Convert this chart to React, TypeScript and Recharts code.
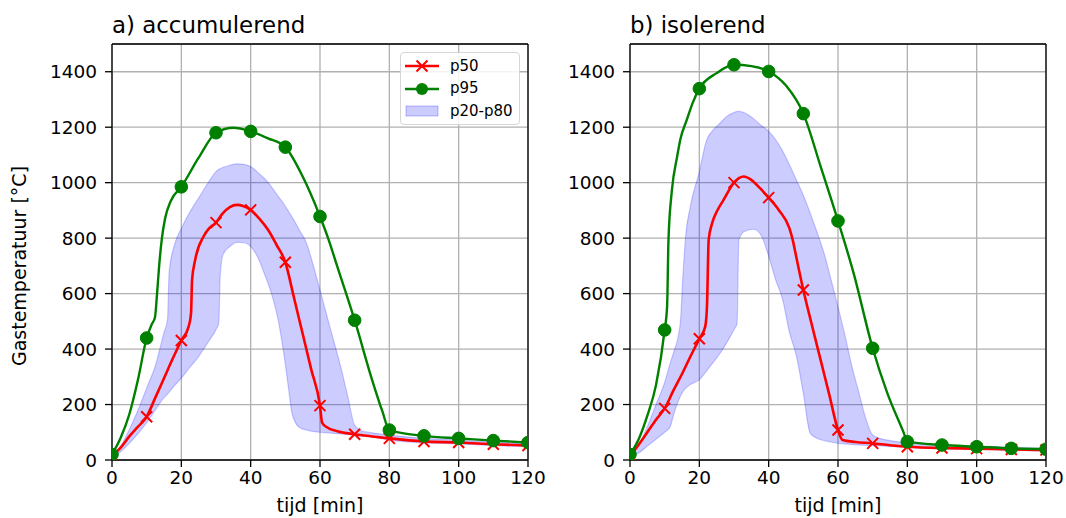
import React from 'react';
import { ComposedChart, Line, Area, XAxis, YAxis, CartesianGrid, ReferenceLine, Legend } from 'recharts';

const FONT = '"DejaVu Sans", sans-serif';

const xTicks = [0, 20, 40, 60, 80, 100, 120];
const yTicks = [0, 200, 400, 600, 800, 1000, 1200, 1400];
const panelTitles = ['a) accumulerend', 'b) isolerend'];
const xLabel = 'tijd [min]';
const yLabel = 'Gastemperatuur [°C]';
const seriesNames = ['p50', 'p95', 'p20-p80'];

// a) accumulerend
const p50aT = [0, 2.5, 5, 7.5, 10, 12.5, 15, 17.5, 20, 22.1, 22.8, 23.1, 24, 26.4, 28, 30, 32, 34, 36, 38, 40, 42.5, 45, 47.5, 50, 52.5, 55, 57.5, 60, 60.6, 62, 65, 70, 75, 80, 90, 100, 110, 120];
const p50aV = [15, 45, 85, 120, 156, 225, 295, 365, 431, 481, 529, 650, 722, 806, 835, 856, 890, 912, 920, 915, 902, 870, 830, 775, 713, 585, 455, 325, 196, 135, 118, 104, 93, 85, 78, 67, 63, 57, 52];

const p95aT = [0, 2.5, 5, 7.5, 10, 11.5, 12.4, 13, 13.6, 14.4, 15.3, 17, 20, 25, 30, 35, 40, 45, 50, 55, 60, 62.5, 65, 70, 75, 78, 80, 90, 100, 110, 120];
const p95aV = [20, 80, 165, 290, 440, 490, 515, 600, 700, 800, 870, 935, 985, 1090, 1180, 1198, 1185, 1160, 1128, 1022, 878, 794, 697, 504, 290, 175, 108, 87, 78, 70, 63];

const bandAT = [0, 2.5, 5, 7.5, 10, 12.5, 15, 16, 16.5, 18, 20, 22.5, 25, 28, 30, 30.8, 31.2, 32, 34, 36, 38, 40, 42, 44, 46, 48, 50, 51, 52, 54, 56, 58, 60, 62, 64, 66, 68, 70, 72, 75, 80, 90, 100, 110, 120];
const bandALo = [10, 30, 60, 95, 135, 180, 225, 238, 245, 268, 295, 335, 373, 430, 470, 493, 660, 740, 770, 785, 784, 770, 732, 670, 600, 500, 345, 250, 165, 118, 108, 103, 100, 98, 96, 94, 92, 88, 86, 83, 72, 62, 58, 52, 48];
const bandAHi = [20, 50, 110, 180, 260, 340, 460, 505, 680, 775, 835, 895, 945, 1005, 1040, 1048, 1050, 1055, 1063, 1068, 1066, 1058, 1038, 1015, 985, 950, 915, 895, 875, 830, 785, 705, 613, 520, 428, 335, 230, 125, 105, 98, 90, 78, 72, 65, 58];

// b) isolerend
const p50bT = [0, 2.5, 5, 7.5, 10, 12.5, 15, 17.5, 20, 21.7, 22.2, 22.7, 23.7, 25, 27, 30, 32.8, 35, 37.5, 40, 43, 46, 47, 48, 50, 52.5, 55, 57.5, 60, 61.3, 65, 70, 75, 80, 90, 100, 110, 120];
const p50bV = [15, 55, 100, 145, 186, 250, 310, 375, 437, 481, 553, 794, 854, 895, 938, 1000, 1022, 1010, 980, 946, 900, 835, 790, 730, 613, 485, 360, 235, 108, 72, 65, 60, 53, 48, 43, 41, 38, 36];

const p95bT = [0, 2.5, 5, 7.5, 10, 10.7, 11.1, 12.1, 13.6, 14.5, 16.4, 18, 20, 25, 30, 35, 40, 45, 50, 55, 60, 64.5, 70, 74.2, 79, 80, 90, 100, 110, 120];
const p95bV = [20, 75, 160, 270, 469, 553, 794, 974, 1094, 1155, 1227, 1285, 1339, 1395, 1425, 1420, 1401, 1350, 1249, 1058, 862, 674, 403, 242, 97, 66, 54, 48, 42, 39];

const bandBT = [0, 2.5, 5, 7.5, 10, 11.6, 12.5, 14.5, 15.2, 16, 17.4, 20, 22, 24, 26, 28, 30, 30.9, 31.4, 33, 35.7, 38, 40, 42, 44, 46, 48, 50, 52, 54, 56, 58, 60, 62, 64, 66, 68, 70, 72, 75, 80, 90, 100, 110, 120];
const bandBLo = [10, 25, 50, 75, 100, 120, 160, 229, 245, 258, 272, 289, 320, 352, 385, 425, 470, 493, 794, 824, 832, 806, 735, 650, 580, 460, 375, 240, 96, 78, 70, 65, 60, 58, 56, 54, 53, 52, 51, 49, 45, 40, 38, 35, 33];
const bandBHi = [20, 55, 120, 200, 280, 350, 385, 493, 650, 800, 914, 1040, 1150, 1190, 1215, 1240, 1253, 1257, 1257, 1252, 1230, 1205, 1185, 1155, 1115, 1065, 1010, 955, 890, 820, 745, 650, 553, 450, 338, 245, 150, 90, 78, 70, 62, 54, 50, 46, 42];

const toPoints = (ts: number[], vs: number[]) => ts.map((t, i) => ({ t, v: vs[i] }));
const toBand = (ts: number[], lo: number[], hi: number[]) => ts.map((t, i) => ({ t, range: [lo[i], hi[i]] }));

const RED = '#ff0000';
const GREEN = '#008000';
const BLUE = '#0000ff';

// markers only every 10 minutes, like the original plot
const CrossDot = (props: any) => {
  const { cx, cy, payload, index } = props;
  if (cx == null || cy == null || payload.t % 10 !== 0) return <g key={`x-${index}`} />;
  const s = 5.5;
  return (
    <path
      key={`x-${index}`}
      d={`M${cx - s},${cy - s}L${cx + s},${cy + s}M${cx - s},${cy + s}L${cx + s},${cy - s}`}
      stroke={RED}
      strokeWidth={2}
      fill="none"
    />
  );
};

const CircleDot = (props: any) => {
  const { cx, cy, payload, index } = props;
  if (cx == null || cy == null || payload.t % 10 !== 0) return <g key={`o-${index}`} />;
  return <circle key={`o-${index}`} cx={cx} cy={cy} r={6.3} fill={GREEN} stroke={GREEN} strokeWidth={1} />;
};

function LegendBox() {
  const handle = (i: number) => {
    if (i === 2) {
      return (
        <svg width={34} height={14}>
          <rect x={1} y={2} width={32} height={10} fill={BLUE} fillOpacity={0.2} stroke={BLUE} strokeOpacity={0.25} />
        </svg>
      );
    }
    const c = i === 0 ? RED : GREEN;
    return (
      <svg width={34} height={14}>
        <line x1={0} y1={7} x2={34} y2={7} stroke={c} strokeWidth={2.4} />
        {i === 0 ? (
          <path d="M11.5,1.5L22.5,12.5M11.5,12.5L22.5,1.5" stroke={c} strokeWidth={2} />
        ) : (
          <circle cx={17} cy={7} r={6} fill={c} />
        )}
      </svg>
    );
  };
  return (
    <div
      style={{
        width: 120,
        height: 73,
        boxSizing: 'border-box',
        border: '1px solid #d6d6d6',
        borderRadius: 4,
        background: 'rgba(255,255,255,0.85)',
        paddingTop: 2,
        fontFamily: FONT,
        fontSize: 15,
        color: '#000',
      }}
    >
      {seriesNames.map((name, i) => (
        <div key={name} style={{ display: 'flex', alignItems: 'center', height: 22.5 }}>
          <div style={{ marginLeft: 4, width: 34, height: 14, lineHeight: 0 }}>{handle(i)}</div>
          <span style={{ marginLeft: 11, lineHeight: '15px' }}>{name}</span>
        </div>
      ))}
    </div>
  );
}

type PanelProps = {
  left: number;
  width: number;
  title: string;
  band: { t: number; range: number[] }[];
  p50: { t: number; v: number }[];
  p95: { t: number; v: number }[];
  showYLabel?: boolean;
  showLegend?: boolean;
};

function Panel({ left, width, title, band, p50, p95, showYLabel, showLegend }: PanelProps) {
  const tickStyle = { fill: '#000', fontSize: 18.5, fontFamily: FONT };
  const axisStroke = { stroke: '#000', strokeWidth: 1.3 };
  // plot area is 416px wide starting at x=112 inside each panel
  const rightMargin = width - 528;
  return (
    <div style={{ position: 'absolute', left, top: 0, width, height: 518 }}>
      <div
        style={{
          position: 'absolute',
          left: 112,
          top: 14,
          fontSize: 22.9,
          lineHeight: '22.9px',
          fontFamily: FONT,
          color: '#000',
          whiteSpace: 'nowrap',
        }}
      >
        {title}
      </div>
      {showYLabel && (
        <div
          style={{
            position: 'absolute',
            left: 18.5,
            top: 266,
            transform: 'translate(-50%, -50%) rotate(-90deg)',
            fontSize: 19,
            fontFamily: FONT,
            color: '#000',
            whiteSpace: 'nowrap',
          }}
        >
          {yLabel}
        </div>
      )}
      <ComposedChart width={width} height={518} data={band} margin={{ top: 44, right: rightMargin, bottom: 0, left: 0 }}>
        <CartesianGrid stroke="#b0b0b0" strokeWidth={1.3} />
        <XAxis
          type="number"
          dataKey="t"
          domain={[0, 120]}
          ticks={xTicks}
          interval={0}
          allowDataOverflow
          height={58}
          tickSize={7}
          tickMargin={4}
          tick={tickStyle}
          axisLine={axisStroke}
          tickLine={axisStroke}
          label={{ value: xLabel, position: 'insideBottom', offset: 6, fill: '#000', fontSize: 19, fontFamily: FONT }}
        />
        <YAxis
          type="number"
          domain={[0, 1500]}
          ticks={yTicks}
          interval={0}
          allowDataOverflow
          width={112}
          tickSize={7}
          tickMargin={8}
          tick={tickStyle}
          axisLine={axisStroke}
          tickLine={axisStroke}
        />
        <ReferenceLine x={120} stroke="#000" strokeWidth={1.3} />
        <ReferenceLine y={1500} stroke="#000" strokeWidth={1.3} />
        <Area
          dataKey="range"
          type="monotoneX"
          fill={BLUE}
          fillOpacity={0.2}
          stroke={BLUE}
          strokeOpacity={0.2}
          strokeWidth={1.2}
          isAnimationActive={false}
          activeDot={false}
        />
        <Line
          data={p50}
          dataKey="v"
          type="monotoneX"
          stroke={RED}
          strokeWidth={2.6}
          dot={CrossDot}
          activeDot={false}
          isAnimationActive={false}
        />
        <Line
          data={p95}
          dataKey="v"
          type="monotoneX"
          stroke={GREEN}
          strokeWidth={2.4}
          dot={CircleDot}
          activeDot={false}
          isAnimationActive={false}
        />
        {showLegend && (
          <Legend
            layout="vertical"
            align="center"
            verticalAlign="middle"
            wrapperStyle={{ top: 52, left: 400, width: 120 }}
            content={() => <LegendBox />}
          />
        )}
      </ComposedChart>
    </div>
  );
}

export default function App() {
  return (
    <div style={{ position: 'absolute', left: 0, top: 0, width: 1066, height: 518, background: '#fff', overflow: 'hidden' }}>
      <Panel
        left={0}
        width={556}
        title={panelTitles[0]}
        band={toBand(bandAT, bandALo, bandAHi)}
        p50={toPoints(p50aT, p50aV)}
        p95={toPoints(p95aT, p95aV)}
        showYLabel
        showLegend
      />
      <Panel
        left={518}
        width={548}
        title={panelTitles[1]}
        band={toBand(bandBT, bandBLo, bandBHi)}
        p50={toPoints(p50bT, p50bV)}
        p95={toPoints(p95bT, p95bV)}
      />
    </div>
  );
}
